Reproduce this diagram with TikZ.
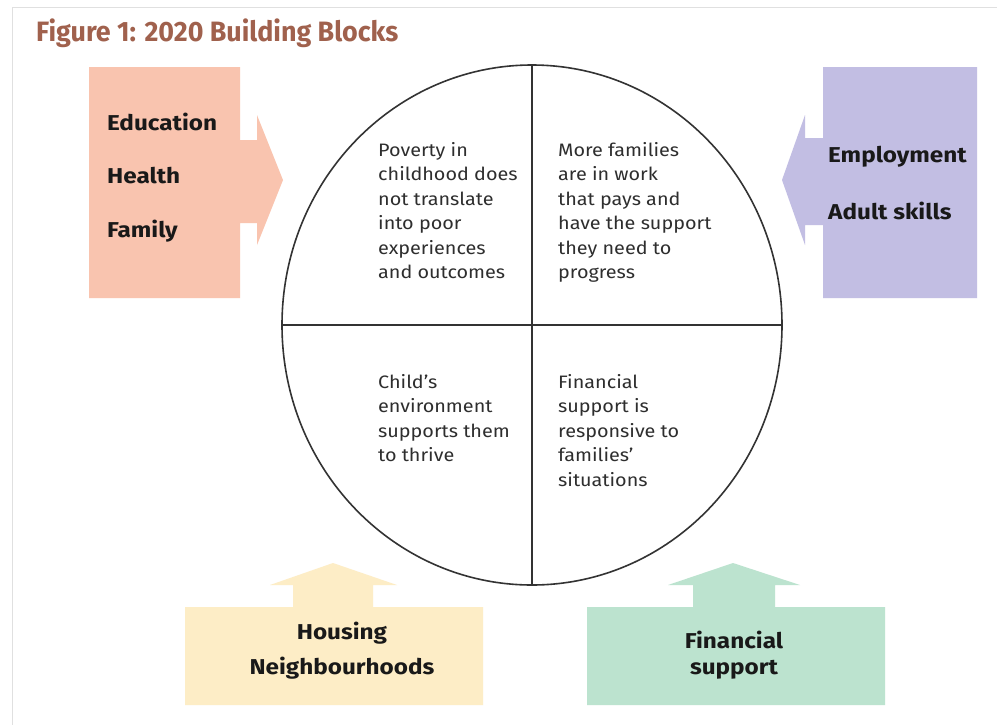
\documentclass[tikz,border=0pt]{standalone}
\usepackage{fontspec}
\setmainfont{Fira Sans}
\newfontfamily\titlefont[FakeStretch=0.96]{Fira Sans}
\newfontfamily\quadfont[FakeStretch=1.1]{Fira Sans}
\newfontfamily\blockfont[FakeStretch=1.13]{Fira Sans}
\definecolor{pinkbk}{HTML}{F9C4AF}
\definecolor{purplebk}{HTML}{C2BEE3}
\definecolor{yellowbk}{HTML}{FDEDC6}
\definecolor{greenbk}{HTML}{BCE3CF}
\definecolor{titlebrown}{HTML}{A0614D}
\definecolor{linegray}{HTML}{333333}
\begin{document}
\begin{tikzpicture}[x=1pt,y=-1pt,
  quadtext/.style={anchor=north west,inner sep=0pt,align=left,font=\quadfont\fontsize{18}{24.5}\selectfont,text=black!82},
  blocktext/.style={inner sep=0pt,font=\blockfont\fontsize{21.5}{30}\selectfont\bfseries,text=black!90},
  ring/.style={draw=linegray,line width=1.6pt}]
\useasboundingbox (0,0) rectangle (997,724);
\fill[white] (0,0) rectangle (997,724);
\draw[black!12,line width=1pt] (12,7) -- (1000,7);
\draw[black!12,line width=1pt] (12,7) -- (12,730);
% title
\node[anchor=west,inner sep=0pt,text=titlebrown,font=\titlefont\fontsize{28}{30}\selectfont\bfseries] (title) at (36,33) {Figure 1: 2020 Building Blocks};
% left pink block with arrow
\fill[pinkbk] (89,67) -- (240,67) -- (240,140) -- (257,140) -- (257,115) -- (283,180) -- (257,245) -- (257,223) -- (240,223) -- (240,298) -- (89,298) -- cycle;
% right purple block
\fill[purplebk] (977,67) -- (823,67) -- (823,138) -- (805,138) -- (805,115) -- (782,180) -- (805,245) -- (805,225) -- (823,225) -- (823,298) -- (977,298) -- cycle;
% bottom yellow
\fill[yellowbk] (185,607) -- (293,607) -- (293,585) -- (270,585) -- (333,563) -- (397,585) -- (373,585) -- (373,607) -- (483,607) -- (483,705) -- (185,705) -- cycle;
% bottom green
\fill[greenbk] (587,607) -- (693,607) -- (693,585) -- (668,585) -- (733,563) -- (800,585) -- (775,585) -- (775,607) -- (885,607) -- (885,705) -- (587,705) -- cycle;
% circle
\coordinate (c) at (532,325);
\draw[ring] (c) ellipse [x radius=250, y radius=260];
\coordinate (top) at (532,65);
\coordinate (bot) at (532,585);
\coordinate (lft) at (282,325);
\coordinate (rgt) at (782,325);
\draw[ring] (top) -- (bot);
\draw[ring] (lft) -- (rgt);
% quadrant texts
\node[quadtext] (q1) at (378,142) {Poverty in\\childhood does\\not translate\\into poor\\experiences\\and outcomes};
\node[quadtext] (q2) at (558,142) {More families\\are in work\\that pays and\\have the support\\they need to\\progress};
\node[quadtext] (q3) at (378,374) {Child’s\\environment\\supports them\\to thrive};
\node[quadtext] (q4) at (558,374) {Financial\\support is\\responsive to\\families’\\situations};
% block texts
\node[blocktext,anchor=west] (edu) at (107,122) {Education};
\node[blocktext,anchor=west] (hea) at (107,176) {Health};
\node[blocktext,anchor=west] (fam) at (107,231) {Family};
\node[blocktext,anchor=west] (emp) at (828,157) {Employment};
\node[blocktext,anchor=west] (adu) at (828,211) {Adult skills};
\node[blocktext] (hou) at (342,633) {Housing};
\node[blocktext] (nei) at (342,668) {Neighbourhoods};
\node[blocktext] (fin) at (734,640) {Financial};
\node[blocktext] (sup) at (734,670) {support};
\end{tikzpicture}
\end{document}
